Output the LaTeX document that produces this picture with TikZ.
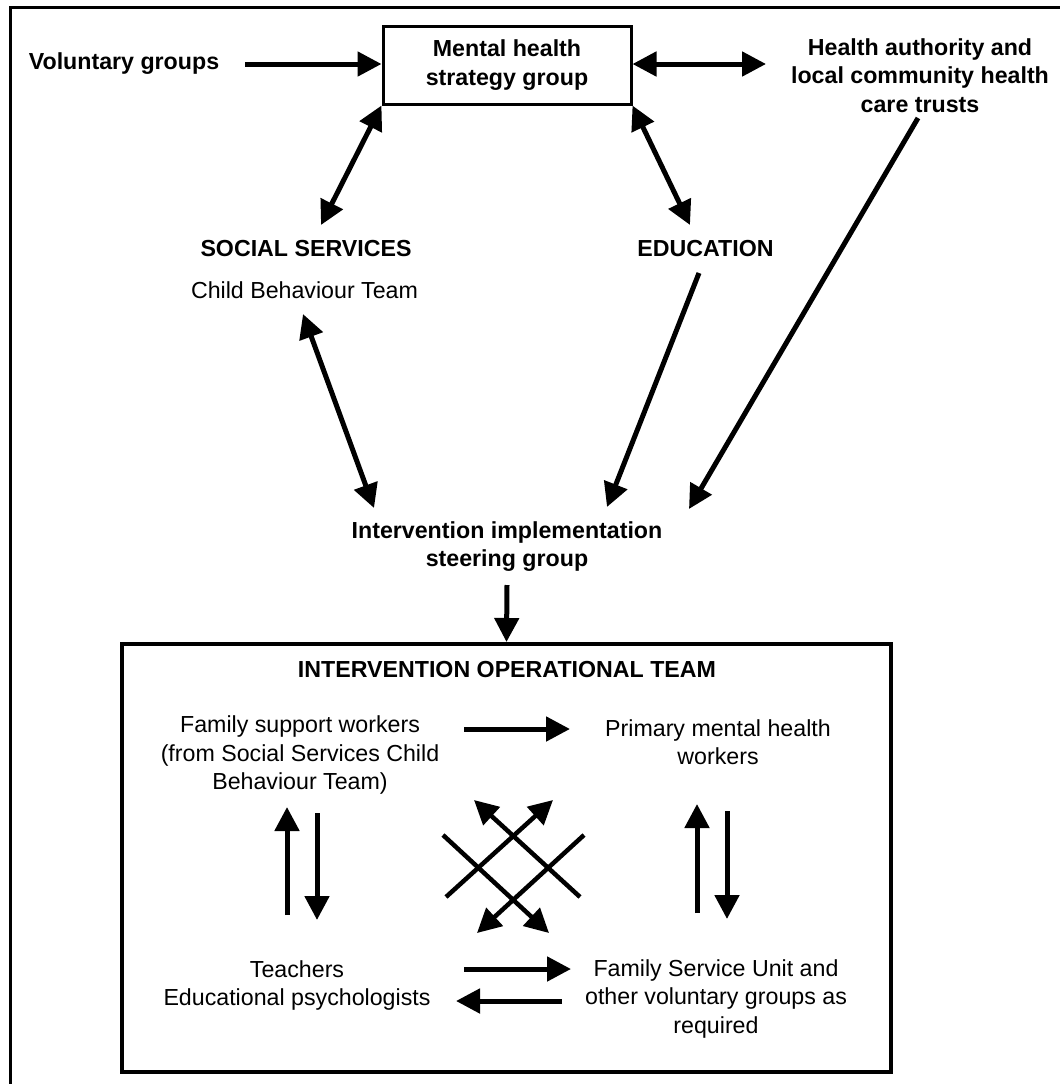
\documentclass[tikz,border=0pt]{standalone}
\usepackage{fontspec}
\setmainfont{Liberation Sans}
\usetikzlibrary{arrows.meta,calc}
\tikzset{
  lbl/.style={inner sep=0pt, align=center, font=\fontsize{23.2bp}{28.5bp}\selectfont},
  blbl/.style={inner sep=0pt, align=center, font=\fontsize{23.2bp}{28.5bp}\selectfont\bfseries},
  tip/.tip={Triangle[length=24bp,width=24bp]},
  link/.style={line width=5bp, -tip},
  dlink/.style={line width=5bp, tip-tip},
  xlink/.style={line width=4.5bp, -tip},
}
\begin{document}
\begin{tikzpicture}[x=1bp,y=-1bp]
  \useasboundingbox (0,0) rectangle (1060,1084);
  % page frame (top and left edges)
  \draw[line width=3bp] (10,1084) -- (10,7) -- (1060,7);

  % upper level
  \node[blbl, draw, line width=3bp, minimum width=248bp, minimum height=78bp] (msg) at (507,65)
    {Mental health\\strategy group};
  \node[blbl] (vol) at (124,64) {Voluntary groups};
  \node[blbl] (hlth) at (920,75.5) {Health authority and\\local community health\\care trusts};
  \node[blbl] (ss) at (306,249) {SOCIAL SERVICES};
  \node[lbl] (cbt) at (304.5,290.5) {Child Behaviour Team};
  \node[blbl] (edu) at (705.5,249) {EDUCATION};
  \node[blbl] (iisg) at (507,546.5) {Intervention implementation\\steering group};

  % operational team
  \node[draw, line width=4bp, minimum width=769bp, minimum height=428bp, inner sep=0pt] (opbox) at (506.5,858) {};
  \node[blbl] (iot) at (507,669.5) {INTERVENTION OPERATIONAL TEAM};
  \node[lbl] (fam) at (300,755) {Family support workers\\(from Social Services Child\\Behaviour Team)};
  \node[lbl] (prim) at (718,742) {Primary mental health\\workers};
  \node[lbl] (teach) at (297,985.7) {Teachers\\Educational psychologists};
  \node[lbl] (fsu) at (716,998.5) {Family Service Unit and\\other voluntary groups as\\required};

  % free connector ends
  \coordinate (hlthL) at (766,64);
  \coordinate (ssT) at (321,225);
  \coordinate (eduT) at (690,225);
  \coordinate (cbtB) at (303,314);
  \coordinate (iisgL) at (374,508);
  \coordinate (eduB) at (699,273);
  \coordinate (iisgM) at (607,507);
  \coordinate (hlthB) at (918,118);
  \coordinate (iisgR) at (689,509);
  \coordinate (iisgS) at (507,585);
  \coordinate (famR) at (464,729);
  \coordinate (primL) at (570,729);
  \coordinate (teachR) at (464,969);
  \coordinate (fsuL) at (571,969);
  \coordinate (fsuL2) at (562,1001);
  \coordinate (teachR2) at (456,1001);
  \coordinate (lu1) at (287,915);
  \coordinate (lu2) at (287,807);
  \coordinate (ld1) at (317,813);
  \coordinate (ld2) at (317,920);
  \coordinate (ru1) at (697,913);
  \coordinate (ru2) at (697,804);
  \coordinate (rd1) at (727,811);
  \coordinate (rd2) at (727,919);
  \coordinate (xa1) at (446,897);
  \coordinate (xa2) at (553,800);
  \coordinate (xb1) at (443,835);
  \coordinate (xb2) at (549,933);
  \coordinate (xc1) at (584,835);
  \coordinate (xc2) at (477,933);
  \coordinate (xd1) at (580,897);
  \coordinate (xd2) at (474,800);

  % upper connectors
  \draw[link] ($(vol.east)+(26,0)$) -- (vol.east -| msg.west);
  \draw[dlink] (msg.east |- hlthL) -- (hlthL);
  \draw[dlink] (msg.south west) -- (ssT);
  \draw[dlink] (msg.south east) -- (eduT);
  \draw[dlink] (cbtB) -- (iisgL);
  \draw[link] (eduB) -- (iisgM);
  \draw[link] (hlthB) -- (iisgR);
  \draw[link] (iisgS) -- (opbox.north);

  % connectors inside the operational team
  \draw[link] (famR) -- (primL);
  \draw[link] (teachR) -- (fsuL);
  \draw[link] (fsuL2) -- (teachR2);
  \draw[link] (lu1) -- (lu2);
  \draw[link] (ld1) -- (ld2);
  \draw[link] (ru1) -- (ru2);
  \draw[link] (rd1) -- (rd2);
  \draw[xlink] (xa1) -- (xa2);
  \draw[xlink] (xb1) -- (xb2);
  \draw[xlink] (xc1) -- (xc2);
  \draw[xlink] (xd1) -- (xd2);
\end{tikzpicture}
\end{document}
